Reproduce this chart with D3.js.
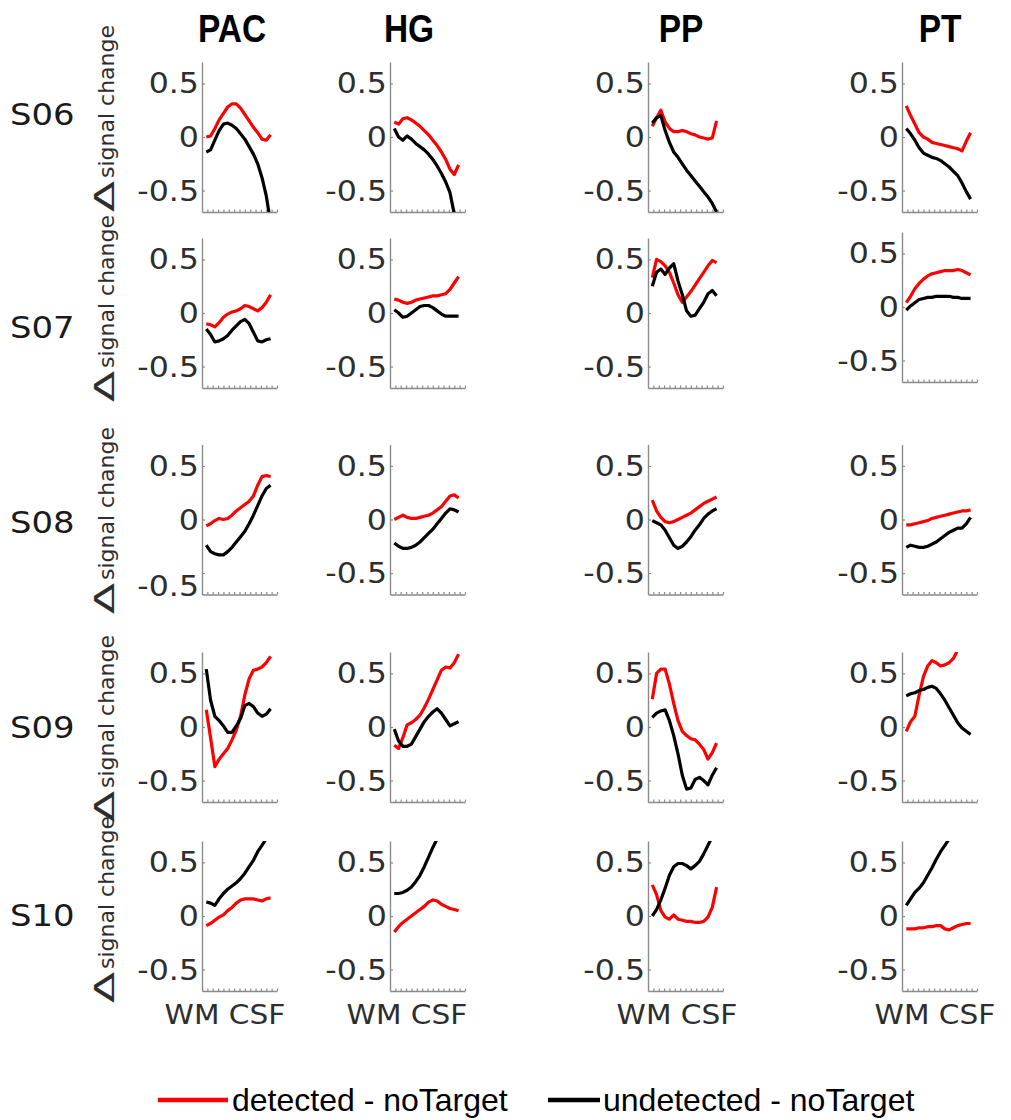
<!DOCTYPE html>
<html><head><meta charset="utf-8">
<script src="https://cdn.jsdelivr.net/npm/d3@7"></script>
<style>body{margin:0;background:#fff}</style>
</head><body><svg id="c" width="1011" height="1120"></svg>
<script>
// ---------- data ----------
const subjects = ["S06","S07","S08","S09","S10"];
const regions = ["PAC","HG","PP","PT"];
const yTicks = [-0.5, 0, 0.5];
const yTickLabels = ["-0.5", "0", "0.5"];
const xLabel = "WM CSF";
const yLabel = "signal change";
const seriesNames = ["detected - noTarget", "undetected - noTarget"];
const seriesColors = ["#ff0000", "#000000"];
const depth = [1,2,3,4,5,6,7,8,9,10,11,12,13,14,15,16];
const xTicks = [1.25,2.5,3.75,5,6.25,7.5,8.75,10,11.25,12.5,13.75,15,16.25,17.5];

// detected - noTarget, per subject: [PAC, HG, PP, PT]
const detected_S06 = [
  [0.00,0.01,0.08,0.16,0.22,0.28,0.31,0.31,0.27,0.21,0.15,0.09,0.04,-0.02,-0.03,0.02],
  [0.14,0.12,0.17,0.18,0.16,0.13,0.10,0.06,0.02,-0.03,-0.08,-0.14,-0.21,-0.30,-0.35,-0.26],
  [0.10,0.18,0.25,0.14,0.08,0.05,0.05,0.06,0.05,0.03,0.02,0.00,-0.01,-0.02,-0.01,0.15],
  [0.29,0.20,0.12,0.04,0.00,-0.02,-0.05,-0.06,-0.07,-0.08,-0.09,-0.10,-0.11,-0.13,-0.04,0.04]];
const detected_S07 = [
  [-0.10,-0.11,-0.13,-0.09,-0.04,-0.01,0.01,0.02,0.04,0.07,0.06,0.04,0.02,0.05,0.10,0.17],
  [0.13,0.12,0.10,0.09,0.10,0.12,0.13,0.14,0.15,0.16,0.16,0.17,0.18,0.22,0.28,0.34],
  [0.33,0.50,0.48,0.44,0.38,0.28,0.17,0.10,0.15,0.20,0.26,0.32,0.38,0.44,0.49,0.47],
  [0.04,0.10,0.17,0.22,0.26,0.29,0.31,0.32,0.33,0.34,0.34,0.34,0.35,0.34,0.32,0.30]];
const detected_S08 = [
  [-0.06,-0.04,-0.01,0.01,0.00,0.01,0.04,0.08,0.11,0.14,0.17,0.22,0.32,0.40,0.41,0.40],
  [0.00,0.02,0.04,0.02,0.01,0.01,0.02,0.03,0.04,0.06,0.09,0.12,0.17,0.22,0.23,0.20],
  [0.18,0.08,0.02,-0.02,-0.03,-0.02,0.00,0.02,0.04,0.06,0.09,0.12,0.15,0.17,0.19,0.21],
  [-0.05,-0.05,-0.04,-0.03,-0.02,-0.01,0.01,0.02,0.03,0.04,0.05,0.06,0.07,0.08,0.08,0.09]];
const detected_S09 = [
  [0.16,-0.10,-0.37,-0.30,-0.25,-0.20,-0.12,-0.03,0.10,0.30,0.45,0.53,0.54,0.56,0.60,0.66],
  [-0.17,-0.20,-0.10,0.02,0.04,0.07,0.11,0.18,0.26,0.35,0.44,0.53,0.56,0.55,0.60,0.68],
  [0.26,0.50,0.54,0.54,0.40,0.22,0.06,-0.04,-0.08,-0.11,-0.12,-0.16,-0.21,-0.30,-0.24,-0.15],
  [-0.04,0.05,0.10,0.30,0.47,0.57,0.62,0.60,0.57,0.58,0.60,0.64,0.72,0.80,0.85,0.90]];
const detected_S10 = [
  [-0.09,-0.07,-0.04,-0.01,0.01,0.05,0.08,0.12,0.15,0.16,0.16,0.16,0.15,0.14,0.16,0.17],
  [-0.15,-0.10,-0.06,-0.03,0.00,0.03,0.06,0.09,0.13,0.15,0.14,0.11,0.09,0.07,0.06,0.05],
  [0.29,0.20,0.05,-0.01,-0.03,0.01,-0.03,-0.04,-0.05,-0.05,-0.06,-0.06,-0.05,-0.01,0.08,0.27],
  [-0.12,-0.12,-0.12,-0.11,-0.11,-0.10,-0.10,-0.09,-0.09,-0.12,-0.13,-0.11,-0.09,-0.08,-0.07,-0.07]];

// undetected - noTarget, per subject: [PAC, HG, PP, PT]
const undetected_S06 = [
  [-0.14,-0.12,-0.03,0.06,0.12,0.13,0.11,0.08,0.03,-0.02,-0.09,-0.16,-0.25,-0.38,-0.55,-0.80],
  [0.08,0.00,-0.03,0.01,-0.02,-0.06,-0.09,-0.12,-0.16,-0.21,-0.27,-0.34,-0.42,-0.52,-0.72,-0.90],
  [0.13,0.18,0.20,0.06,-0.05,-0.14,-0.19,-0.25,-0.31,-0.36,-0.41,-0.46,-0.51,-0.56,-0.62,-0.70],
  [0.08,0.03,-0.03,-0.10,-0.15,-0.17,-0.19,-0.20,-0.22,-0.25,-0.28,-0.32,-0.36,-0.43,-0.51,-0.58]];
const undetected_S07 = [
  [-0.15,-0.20,-0.27,-0.26,-0.24,-0.21,-0.16,-0.12,-0.08,-0.06,-0.10,-0.18,-0.26,-0.27,-0.25,-0.24],
  [0.03,0.00,-0.04,-0.03,0.00,0.03,0.06,0.07,0.07,0.05,0.02,-0.01,-0.03,-0.03,-0.03,-0.03],
  [0.25,0.38,0.41,0.36,0.42,0.46,0.30,0.17,0.02,-0.03,-0.02,0.04,0.10,0.18,0.21,0.16],
  [-0.03,0.01,0.04,0.07,0.08,0.09,0.09,0.10,0.10,0.10,0.10,0.09,0.09,0.08,0.08,0.08]];
const undetected_S08 = [
  [-0.24,-0.30,-0.32,-0.33,-0.33,-0.30,-0.26,-0.21,-0.16,-0.11,-0.04,0.04,0.13,0.22,0.29,0.32],
  [-0.22,-0.25,-0.27,-0.27,-0.26,-0.24,-0.21,-0.17,-0.13,-0.09,-0.04,0.01,0.06,0.10,0.09,0.07],
  [-0.01,-0.03,-0.05,-0.10,-0.17,-0.24,-0.27,-0.25,-0.21,-0.16,-0.10,-0.05,0.01,0.05,0.08,0.10],
  [-0.26,-0.24,-0.25,-0.26,-0.26,-0.25,-0.23,-0.21,-0.18,-0.15,-0.12,-0.10,-0.08,-0.08,-0.04,0.02]];
const undetected_S09 = [
  [0.54,0.25,0.10,0.06,0.01,-0.05,-0.05,0.01,0.08,0.20,0.22,0.19,0.13,0.10,0.12,0.17],
  [-0.02,-0.13,-0.18,-0.18,-0.16,-0.09,-0.02,0.05,0.10,0.14,0.17,0.13,0.07,0.01,0.03,0.05],
  [0.09,0.13,0.15,0.16,0.06,-0.08,-0.25,-0.45,-0.58,-0.57,-0.49,-0.47,-0.50,-0.54,-0.45,-0.38],
  [0.29,0.31,0.32,0.34,0.35,0.37,0.38,0.36,0.31,0.25,0.18,0.11,0.04,-0.01,-0.04,-0.07]];
const undetected_S10 = [
  [0.13,0.12,0.10,0.16,0.21,0.25,0.28,0.31,0.35,0.40,0.46,0.52,0.60,0.66,0.72,0.78],
  [0.21,0.21,0.22,0.24,0.27,0.32,0.38,0.46,0.55,0.64,0.72,0.80,0.88,0.95,1.00,1.05],
  [0.00,0.06,0.15,0.26,0.38,0.46,0.49,0.49,0.47,0.44,0.47,0.51,0.58,0.66,0.74,0.80],
  [0.10,0.16,0.22,0.26,0.31,0.38,0.45,0.53,0.60,0.66,0.72,0.78,0.85,0.90,0.95,1.00]];

const detected = [detected_S06, detected_S07, detected_S08, detected_S09, detected_S10];
const undetected = [undetected_S06, undetected_S07, undetected_S08, undetected_S09, undetected_S10];

// ---------- layout ----------
const colX = [202, 390, 648, 902];
const panelW = 75;
const rowZero = [137, 313, 519.5, 727, 916];
const halfH = 75;
const shiftS07PT = -6;
const titleX = [232, 409, 681, 940];
const xLabelX = [225, 407, 677, 935];
const rowLabelY = [114, 327, 522, 727, 915];
const yLabelStart = [212, 402, 614, 822, 1003];

const svg = d3.select("#c");
const tickFont = "'DejaVu Sans', Verdana, sans-serif";

function stretchedText(g, x, y, txt, size, sx, anchor, fill, weight, family) {
  return g.append("text")
    .attr("transform", `translate(${x},${y}) scale(${sx},1)`)
    .attr("text-anchor", anchor)
    .attr("font-family", family || tickFont)
    .attr("font-size", size)
    .attr("font-weight", weight || "normal")
    .attr("fill", fill)
    .text(txt);
}

const x = d3.scaleLinear().domain([0, 17.5]);

subjects.forEach((s, r) => {
  regions.forEach((reg, c) => {
    const zero = rowZero[r] + (r === 1 && c === 3 ? shiftS07PT : 0);
    const x0 = colX[c];
    const xs = x.copy().range([x0, x0 + panelW]);
    const ys = d3.scaleLinear().domain([-0.7, 0.7]).range([zero + halfH, zero - halfH]);
    const g = svg.append("g");
    const clipId = `clip-${r}-${c}`;
    g.append("clipPath").attr("id", clipId).append("rect")
      .attr("x", x0).attr("y", zero - halfH).attr("width", panelW + 2).attr("height", 2 * halfH);

    // axes
    const ax = g.append("g").attr("transform", `translate(0,${zero + halfH})`)
      .call(d3.axisBottom(xs).tickValues(xTicks).tickSize(-2.5).tickSizeOuter(0).tickFormat(""));
    const ay = g.append("g").attr("transform", `translate(${x0},0)`)
      .call(d3.axisLeft(ys).tickValues(yTicks).tickSize(-3).tickSizeOuter(0).tickFormat(""));
    [ax, ay].forEach(a => {
      a.select(".domain").attr("stroke", "#8a8a8a").attr("stroke-width", 1.4);
      a.selectAll(".tick line").attr("stroke", "#8a8a8a").attr("stroke-width", 1.2);
    });

    // tick labels (S08 PAC has its lowest label pushed down onto the axis)
    yTicks.forEach((t, k) => {
      const dy = (r === 2 && c === 0 && t === -0.5) ? 13 : 0;
      stretchedText(g, x0 - 3, ys(t) + 10 + dy, yTickLabels[k], 27.5, 1.15, "end", "#2e2e2e");
    });

    // lines
    const line = d3.line().x((d, i) => xs(depth[i])).y(d => ys(d)).curve(d3.curveLinear);
    [detected[r][c], undetected[r][c]].forEach((vals, k) => {
      g.append("path").attr("clip-path", `url(#${clipId})`)
        .attr("d", line(vals)).attr("fill", "none")
        .attr("stroke", seriesColors[k]).attr("stroke-width", 3.2)
        .attr("stroke-linejoin", "round").attr("stroke-linecap", "butt");
    });
  });

  // row label
  stretchedText(svg, 10, rowLabelY[r] + 11, s, 30, 1.13, "start", "#1a1a1a");

  // y label
  const yl = svg.append("g").attr("transform", `translate(114,${yLabelStart[r]}) rotate(-90)`);
  yl.append("text").attr("transform", "scale(1.75,1)").attr("font-family", tickFont)
    .attr("font-size", 26).attr("fill", "#2e2e2e").text("\u0394");
  yl.append("text").attr("x", 34).attr("font-family", tickFont)
    .attr("font-size", 22).attr("fill", "#2e2e2e").text(yLabel);
});

// column titles and x labels
regions.forEach((reg, c) => {
  stretchedText(svg, titleX[c], 42, reg, 38, 0.88, "middle", "#000", "bold", "'Liberation Sans', Arial, sans-serif");
  stretchedText(svg, xLabelX[c], 1024, xLabel, 26, 1.14, "middle", "#2e2e2e");
});

// legend
const legendLines = [[158, 228], [548, 600]];
const legendTextX = [232, 603];
seriesNames.forEach((n, k) => {
  svg.append("line").attr("x1", legendLines[k][0]).attr("x2", legendLines[k][1])
    .attr("y1", 1100).attr("y2", 1100).attr("stroke", seriesColors[k]).attr("stroke-width", 4.5);
  svg.append("text").attr("x", legendTextX[k]).attr("y", 1111)
    .attr("font-family", "'Liberation Sans', Arial, sans-serif").attr("font-size", 32)
    .attr("fill", "#000").text(n);
});
</script></body></html>
